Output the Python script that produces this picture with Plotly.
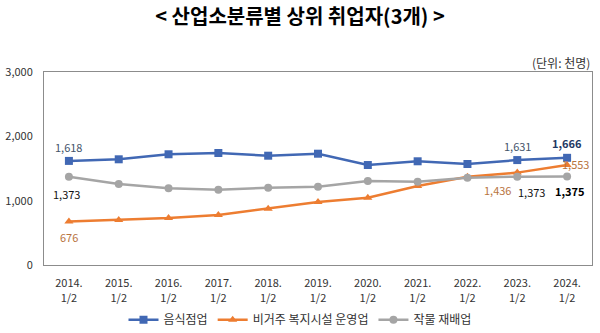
import plotly.graph_objects as go

years = ["2014", "2015", "2016", "2017", "2018", "2019", "2020", "2021", "2022", "2023", "2024"]
year_text = [f"{y}." for y in years]
half_text = ["1/2"] * len(years)
names = ["음식점업", "비거주 복지시설 운영업", "작물 재배업"]
food = [1618, 1643, 1721, 1741, 1699, 1730, 1554, 1612, 1570, 1631, 1666]
welfare = [676, 699, 731, 777, 875, 979, 1046, 1228, 1370, 1436, 1553]
crop = [1373, 1259, 1192, 1171, 1202, 1217, 1306, 1295, 1357, 1373, 1375]

colors = ["#4168B4", "#ED7D31", "#A5A5A5"]
symbols = ["square", "triangle-up", "circle"]
FONT = "Noto Sans CJK KR, Malgun Gothic, sans-serif"

fig = go.Figure()
for name, vals, c, s in zip(names, [food, welfare, crop], colors, symbols):
    fig.add_trace(go.Scatter(
        x=years, y=vals, name=name, mode="lines+markers",
        line=dict(color=c, width=2.5),
        marker=dict(symbol=s, size=8, color=c),
    ))
# invisible helper trace carrying the second tick-label row ("1/2")
fig.add_trace(go.Scatter(x=years, y=food, xaxis="x2", mode="lines",
                         line=dict(width=0), opacity=0, showlegend=False,
                         hoverinfo="skip"))

# data labels: (series values, index, dx, dy, color, bold)
labels = [
    (food, 0, 0, 14, "#44546A", False),
    (food, 9, 0, 14, "#44546A", False),
    (food, 10, 0, 15, "#1F3864", True),
    (welfare, 0, 0, -15, "#B8733E", False),
    (welfare, 9, -20, -17, "#B8733E", False),
    (welfare, 10, 8, 1, "#B8733E", False),
    (crop, 0, -2, -17, "#111111", False),
    (crop, 9, 14, -15, "#111111", False),
    (crop, 10, 3, -14, "#000000", True),
]
for vals, i, dx, dy, c, b in labels:
    t = f"{vals[i]:,}"
    if b:
        t = f"<b>{t}</b>"
    # category axis: numeric x is the category index
    fig.add_annotation(x=i, y=vals[i], text=t, showarrow=False,
                       xshift=dx, yshift=dy,
                       font=dict(size=11, color=c, family=FONT))

fig.add_annotation(xref="paper", yref="paper", x=1, y=1, yshift=10,
                   xanchor="right", yanchor="middle", showarrow=False,
                   text="(단위: 천명)",
                   font=dict(size=12, color="#333333", family=FONT))

fig.update_layout(
    width=600, height=333,
    margin=dict(l=44, r=8, t=72, b=68, autoexpand=False),
    paper_bgcolor="white", plot_bgcolor="white",
    font=dict(family=FONT, size=11, color="#333333"),
    title=dict(text="<b>&lt; 산업소분류별 상위 취업자(3개) &gt;</b>",
               xref="container", yref="container", x=0.5, xanchor="center",
               y=0.948, yanchor="middle",
               font=dict(size=20, color="#000000", family=FONT)),
    showlegend=True,
    legend=dict(orientation="h", xref="container", yref="container",
                x=0.5, xanchor="center", y=0.04, yanchor="middle",
                font=dict(size=12, color="#333333"), itemwidth=30,
                tracegroupgap=0),
    xaxis=dict(type="category", range=[-0.5, 10.5], showline=True, mirror=True,
               linecolor="#8C8C8C", linewidth=1, showgrid=False, ticks="",
               automargin=False, ticklabelstandoff=8,
               tickvals=years, ticktext=year_text,
               tickfont=dict(size=11, color="#333333")),
    xaxis2=dict(type="category", range=[-0.5, 10.5], overlaying="x", side="bottom",
                anchor="y", showline=False, showgrid=False, ticks="",
                automargin=False, ticklabelstandoff=25,
                tickvals=years, ticktext=half_text,
                tickfont=dict(size=11, color="#333333")),
    yaxis=dict(range=[0, 3000], tickvals=[0, 1000, 2000, 3000], tickformat=",",
               showline=True, mirror=True, linecolor="#8C8C8C", linewidth=1,
               showgrid=False, zeroline=False, ticks="", ticklabelstandoff=8,
               automargin=False,
               tickfont=dict(size=11, color="#333333")),
)

fig.write_html("out.html")
